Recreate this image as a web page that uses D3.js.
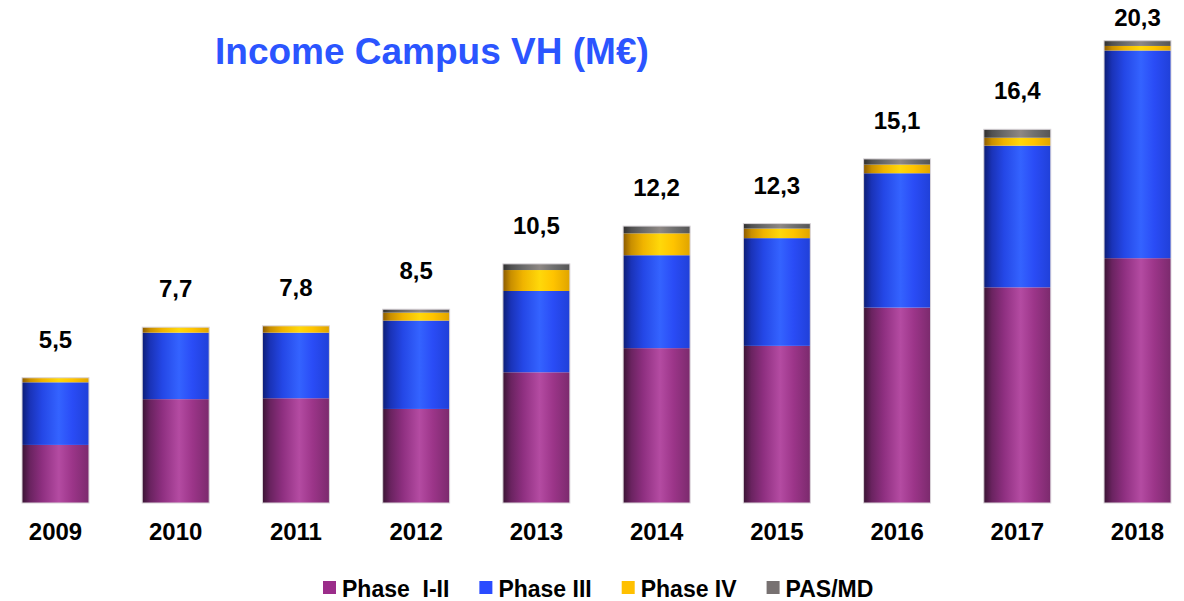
<!DOCTYPE html>
<html>
<head>
<meta charset="utf-8">
<script src="https://cdn.jsdelivr.net/npm/d3@7"></script>
<style>
  html, body { margin: 0; padding: 0; background: #fff; }
  svg { display: block; font-family: "Liberation Sans", Arial, sans-serif; font-weight: bold; }
</style>
</head>
<body>
<svg id="chart" width="1184" height="601"></svg>
<script>
// data (M€)
var years = ["2009","2010","2011","2012","2013","2014","2015","2016","2017","2018"];
var phase12 = [2.55, 4.56, 4.6, 4.13, 5.74, 6.8, 6.9, 8.58, 9.47, 10.75];
var phase3  = [2.75, 2.92, 2.88, 3.88, 3.57, 4.08, 4.73, 5.9, 6.22, 9.12];
var phase4  = [0.2, 0.24, 0.3, 0.35, 0.92, 0.96, 0.42, 0.38, 0.35, 0.2];
var pasmd   = [0, 0, 0, 0.15, 0.27, 0.32, 0.22, 0.25, 0.37, 0.23];
var totals  = ["5,5","7,7","7,8","8,5","10,5","12,2","12,3","15,1","16,4","20,3"];
var seriesNames = ["Phase  I-II", "Phase III", "Phase IV", "PAS/MD"];
var seriesKeys = ["p12", "p3", "p4", "pas"];

var swatch = {p12: "#9b2d8a", p3: "#2a4bff", p4: "#ffc000", pas: "#777171"};
// cylinder shading, left dark -> highlight -> right
var shades = {
  p12: ["#3a1433", "#6a2360", "#8e2f80", "#b44ba2", "#9c3589", "#7b2a6d"],
  p3:  ["#0c1d74", "#1a33b8", "#2447e6", "#3463ff", "#2a4cf6", "#2040d8"],
  p4:  ["#8a5a00", "#c98f00", "#f0b400", "#ffd80a", "#ffc400", "#e0a400"],
  pas: ["#2e2e2e", "#505050", "#6a6a6a", "#8e8884", "#707070", "#555555"]
};
var stopAt = [0, 0.12, 0.3, 0.55, 0.75, 1];

var rows = years.map(function(y, i) {
  return {year: y, p12: phase12[i], p3: phase3[i], p4: phase4[i], pas: pasmd[i], label: totals[i]};
});
function total(d) { return d.p12 + d.p3 + d.p4 + d.pas; }

var svg = d3.select("#chart");
var defs = svg.append("defs");
seriesKeys.forEach(function(k) {
  var g = defs.append("linearGradient").attr("id", "grad-" + k)
    .attr("x1", 0).attr("x2", 1).attr("y1", 0).attr("y2", 0);
  shades[k].forEach(function(c, j) {
    g.append("stop").attr("offset", stopAt[j]).attr("stop-color", c);
  });
});

var x = d3.scaleBand().domain(years).range([22, 1171]).paddingInner(0.443).paddingOuter(0);
var y = d3.scaleLinear().domain([0, 22]).range([503, 2]);

var stacked = d3.stack().keys(seriesKeys)(rows);

svg.append("g").selectAll("g")
  .data(stacked)
  .join("g")
    .attr("fill", function(d) { return "url(#grad-" + d.key + ")"; })
  .selectAll("rect")
  .data(function(d) { return d; })
  .join("rect")
    .attr("x", function(d) { return x(d.data.year); })
    .attr("y", function(d) { return y(d[1]); })
    .attr("width", x.bandwidth())
    .attr("height", function(d) { return Math.max(0, y(d[0]) - y(d[1])); });

// pale outline round each bar
svg.append("g").selectAll("rect")
  .data(rows)
  .join("rect")
    .attr("x", function(d) { return x(d.year); })
    .attr("y", function(d) { return y(total(d)); })
    .attr("width", x.bandwidth())
    .attr("height", function(d) { return y(0) - y(total(d)); })
    .attr("fill", "none")
    .attr("stroke", "#d9d4d9")
    .attr("stroke-width", 1);

// totals above bars
svg.append("g").selectAll("text")
  .data(rows)
  .join("text")
    .attr("x", function(d) { return x(d.year) + x.bandwidth() / 2; })
    .attr("y", function(d) { return Math.max(y(total(d)) - 30, 26); })
    .attr("text-anchor", "middle")
    .attr("font-size", 24)
    .attr("fill", "#000")
    .text(function(d) { return d.label; });

// year axis
var xAxis = svg.append("g").attr("transform", "translate(0,503)")
  .call(d3.axisBottom(x).tickSize(0).tickPadding(20));
xAxis.select(".domain").remove();
xAxis.selectAll("text")
  .attr("font-size", 24)
  .attr("font-family", "'Liberation Sans', Arial, sans-serif")
  .attr("font-weight", "bold")
  .attr("fill", "#000");

// title
svg.append("text")
  .attr("x", 215).attr("y", 64)
  .attr("font-size", 37)
  .attr("fill", "#2b55ff")
  .text("Income Campus VH (M€)");

// legend
var legend = svg.append("g");
var lx = 323;
seriesKeys.forEach(function(k, i) {
  legend.append("rect")
    .attr("x", lx).attr("y", 581).attr("width", 13).attr("height", 13)
    .attr("fill", swatch[k]);
  var t = legend.append("text")
    .attr("x", lx + 19).attr("y", 597)
    .attr("font-size", 23)
    .style("white-space", "pre")
    .attr("fill", "#000")
    .text(seriesNames[i]);
  lx += 19 + t.node().getComputedTextLength() + 30;
});
</script>
</body>
</html>
